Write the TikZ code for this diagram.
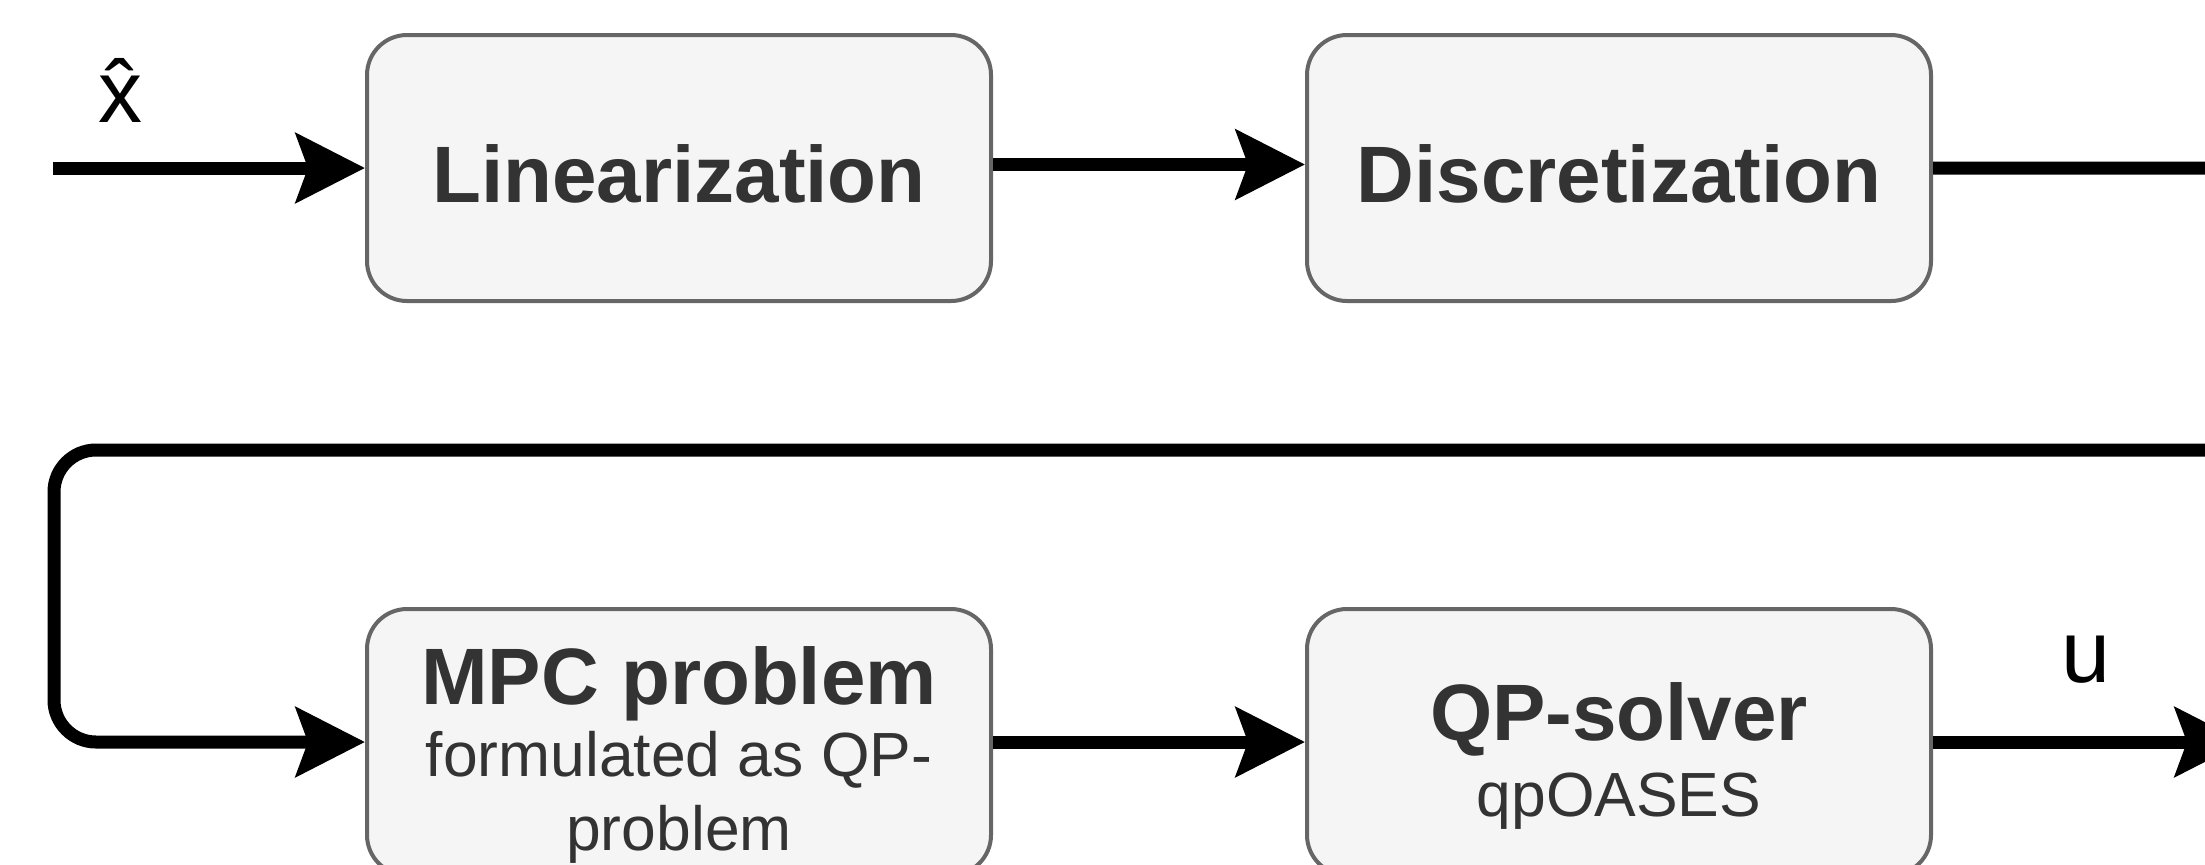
\documentclass[tikz,border=0pt]{standalone}
\usepackage{fontspec}
\setmainfont{Liberation Sans}
\usetikzlibrary{arrows.meta}
\definecolor{boxfill}{HTML}{F5F5F5}
\definecolor{boxdraw}{HTML}{666666}
\definecolor{boxtext}{HTML}{333333}
\tikzset{
  blockbox/.style={draw=boxdraw, fill=boxfill, line width=2pt, rounded corners=20pt,
    minimum width=312pt, minimum height=133pt, inner sep=0pt},
  bigtxt/.style={text=boxtext, font=\bfseries\fontsize{40}{48}\selectfont, anchor=base, inner sep=0pt},
  smalltxt/.style={text=boxtext, font=\fontsize{31.2}{36}\selectfont, anchor=base, inner sep=0pt},
  lbl/.style={text=black, font=\fontsize{44}{52}\selectfont, anchor=base, inner sep=0pt},
  conn/.style={draw=black, line width=6.5pt, -{Stealth[length=34.5pt, width=34.5pt, inset=6pt]}},
}
\begin{document}
\begin{tikzpicture}[x=0.5pt, y=-0.5pt]
\useasboundingbox (0,0) rectangle (2205,864);
\clip (0,0) rectangle (2205,864);
% boxes
\node[blockbox] (lin)  at (679,168) {};
\node[blockbox] (disc) at (1619,168) {};
\node[blockbox] (mpc)  at (679,742) {};
\node[blockbox] (qp)   at (1619,742) {};
% box texts
\node[bigtxt] (lintxt)  at (679,202)  {Linearization};
\node[bigtxt] (disctxt) at (1619,202) {Discretization};
\node[bigtxt] (mpct1)   at (679,704)  {MPC problem};
\node[smalltxt] (mpct2) at (679,776)  {formulated as QP-};
\node[smalltxt] (mpct3) at (679,850)  {problem};
\node[bigtxt] (qpt1)    at (1619,740) {QP-solver};
\node[smalltxt] (qpt2)  at (1619,816) {qpOASES};
% labels
\node[lbl] (xhat) at (120,122) {x̂};
\node[lbl] (ulbl) at (2086,682) {u};
% helper coordinates
\coordinate (in)  at (53,168);
\coordinate (out) at (2244,742);
\coordinate (r1)  at (2262,168);
\coordinate (r2)  at (2262,450);
\coordinate (l1)  at (54,450);
\coordinate (l2)  at (54,742);
% connectors
\draw[conn] (in) -- (lin.west);
\draw[conn] ([yshift=1.75pt]lin.east) -- ([yshift=1.75pt]disc.west);
\draw[conn, rounded corners=21pt] (disc.east) -- (r1) -- (r2) -- (l1) -- (l2) -- (mpc.west);
\draw[conn] (mpc.east) -- (qp.west);
\draw[conn] (qp.east) -- (out);
\end{tikzpicture}
\end{document}
